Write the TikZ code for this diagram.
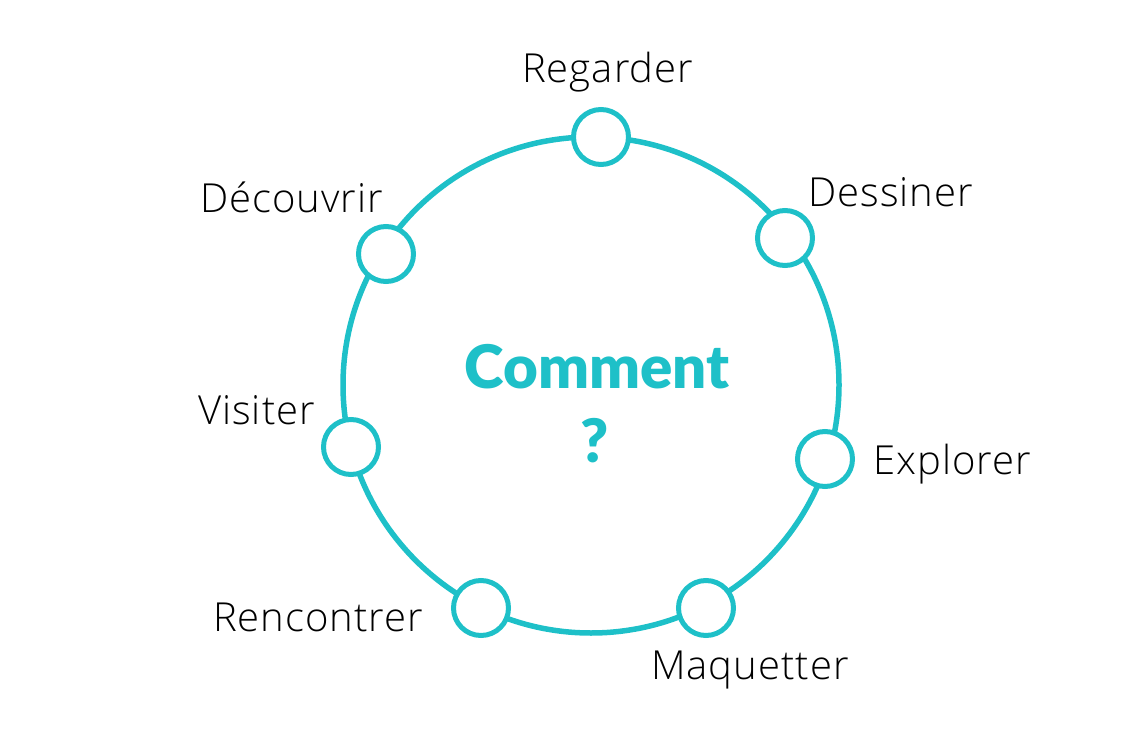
\documentclass[tikz,border=0pt]{standalone}
\usepackage{fontspec}
\setmainfont{Open Sans}[UprightFont=* Light, BoldFont=* Bold, LetterSpace=2.5]
\newfontfamily\titlefont{Lato}[UprightFont=* Black]
\definecolor{teal1}{RGB}{30,192,200}
\tikzset{
  ring/.style={circle, draw=teal1, line width=5.5pt, minimum size=#1, inner sep=0pt},
  dot/.style={circle, draw=teal1, fill=white, line width=5pt, minimum size=55pt, inner sep=0pt},
  lab/.style={anchor=base west, inner sep=0pt, font=\fontsize{40}{42}\selectfont, text=black},
  title/.style={anchor=base, inner sep=0pt, font=\fontsize{60}{62}\titlefont, text=teal1}
}
\begin{document}
\begin{tikzpicture}[x=1pt,y=-1pt]
\useasboundingbox (0,0) rectangle (1146,738);
\node[ring=496pt] (big) at (591,385) {};
\node[dot] (c1) at (601,137) {};
\node[dot] (c2) at (785,238) {};
\node[dot] (c3) at (825,459) {};
\node[dot] (c4) at (706,608) {};
\node[dot] (c5) at (481,608) {};
\node[dot] (c6) at (351,447) {};
\node[dot] (c7) at (386,254) {};
\node[lab] (t1) at (522,83) {Regarder};
\node[lab] (t2) at (808,207) {Dessiner};
\node[lab] (t3) at (873,474) {Explorer};
\node[lab] (t4) at (651,679) {Maquetter};
\node[lab] (t5) at (213,631) {Rencontrer};
\node[lab] (t6) at (198,424) {Visiter};
\node[lab] (t7) at (200,213) {Découvrir};
\node[title] (q1) at (597,388) {Comment};
\node[title] (q2) at (595,462) {?};
\end{tikzpicture}
\end{document}
